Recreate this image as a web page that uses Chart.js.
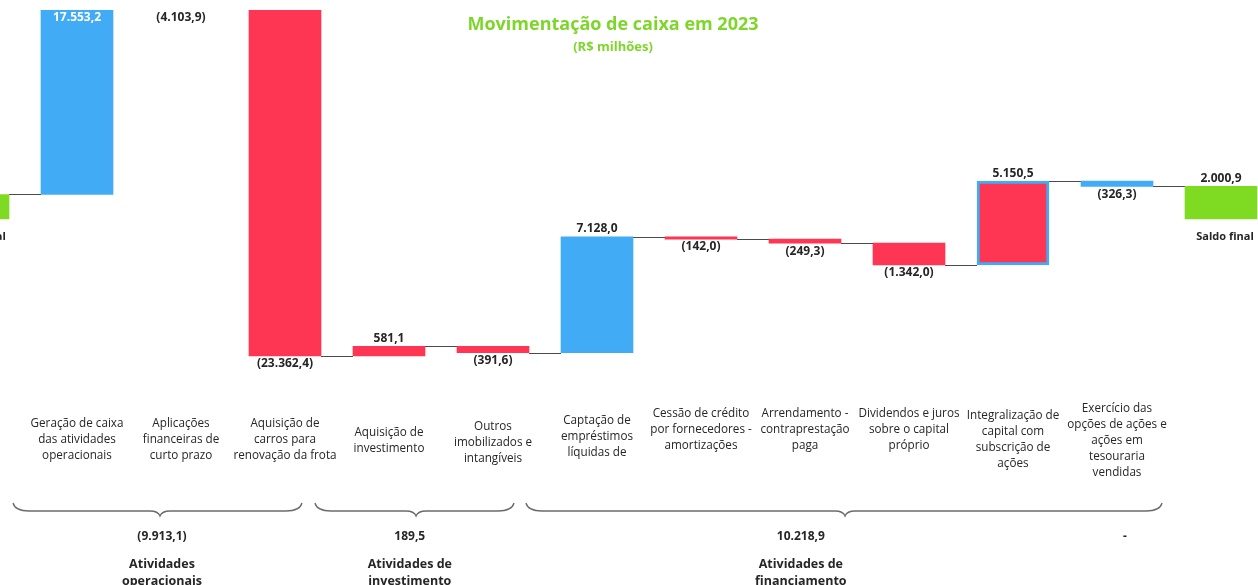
<!DOCTYPE html>
<html><head><meta charset="utf-8">
<script src="https://cdn.jsdelivr.net/npm/chart.js@4/dist/chart.umd.min.js"></script>
<style>
html,body{margin:0;padding:0;background:#fff;overflow:hidden;}
#wrap{position:relative;width:1258px;height:585px;overflow:hidden;background:#fff;}
#c{position:absolute;left:-79px;top:0;}
</style></head><body>
<div id="wrap"><canvas id="c" width="1352" height="585"></canvas></div>
<script>
// ---------- DATA ----------
const categories = [
  ['Saldo inicial'],
  ['Geração de caixa','das atividades','operacionais'],
  ['Aplicações','financeiras de','curto prazo'],
  ['Aquisição de','carros para','renovação da frota'],
  ['Aquisição de','investimento'],
  ['Outros','imobilizados e','intangíveis'],
  ['Captação de','empréstimos','líquidas de'],
  ['Cessão de crédito','por fornecedores -','amortizações'],
  ['Arrendamento -','contraprestação','paga'],
  ['Dividendos e juros','sobre o capital','próprio'],
  ['Integralização de','capital com','subscrição de','ações'],
  ['Exercício das','opções de ações e','ações em','tesouraria','vendidas'],
  ['Saldo final']
];
const saldoInicial = 1505.6;
const variacoes = [17553.2, -4103.9, -23362.4, 581.1, -391.6, 7128.0, -142.0, -249.3, -1342.0, 5150.5, -326.3];
const saldoFinal = 2000.9;
const groupNames = [['Atividades','operacionais'], ['Atividades de','investimento'], ['Atividades de','financiamento']];
const groupTotals = [-9913.1, 189.5, 10218.9];
const extraTotal = '-';

// ---------- STYLE ----------
const GREEN = '#7FDB22', BLUE = '#42ABF5', RED = '#FF3554';
const barColors = [GREEN, BLUE, RED, RED, RED, RED, BLUE, RED, RED, RED, RED, BLUE, GREEN];
const barBorderColors = barColors.map((c,i)=> i===10 ? BLUE : c);
const barBorderWidths = barColors.map((c,i)=> i===10 ? 3 : 0);
const labelCenters = [null, 440, 440, 440, 441, 443, 437, 430, 430, 430, 440, 441, null];
// brace spans in category-index units: [start, tip, end]
const braceSpans = [[0.385, 1.798, 3.163], [3.288, 4.26, 5.202], [5.317, 8.385, 11.433]];
const groupTextPos = [1.817, 4.2, 7.96];
const extraTextPos = 11.077;
const FONT = '"Open Sans", "Noto Sans", sans-serif';
const TXT = '#262626';

// ---------- BUILD ----------
const fmt = v => {
  const a = Math.abs(v).toFixed(1).split('.');
  const ip = a[0].replace(/\B(?=(\d{3})+(?!\d))/g, '.');
  const s = ip + ',' + a[1];
  return v < 0 ? '(' + s + ')' : s;
};
const floating = [];
let level = saldoInicial;
floating.push([0, saldoInicial]);
variacoes.forEach(v => { floating.push([level, level + v]); level += v; });
floating.push([0, saldoFinal]);
const isTotal = i => i === 0 || i === categories.length - 1;
const valueOf = i => i === 0 ? saldoInicial : (i === categories.length - 1 ? saldoFinal : variacoes[i - 1]);

const connectors = {
  id: 'connectors',
  beforeDatasetsDraw(chart) {
    const {ctx, chartArea: ca} = chart;
    const meta = chart.getDatasetMeta(0);
    const y = chart.scales.y;
    ctx.save();
    ctx.beginPath(); ctx.rect(ca.left, ca.top, ca.right - ca.left, ca.bottom - ca.top); ctx.clip();
    ctx.strokeStyle = '#4a4a4a'; ctx.lineWidth = 1;
    for (let i = 0; i < floating.length - 1; i++) {
      const lv = floating[i][1];
      const a = meta.data[i], b = meta.data[i + 1];
      const py = Math.round(y.getPixelForValue(lv)) + 0.5;
      ctx.beginPath();
      ctx.moveTo(a.x + a.width / 2, py);
      ctx.lineTo(b.x - b.width / 2, py);
      ctx.stroke();
    }
    ctx.restore();
  }
};

const texts = {
  id: 'texts',
  afterDraw(chart) {
    const {ctx, chartArea: ca} = chart;
    const meta = chart.getDatasetMeta(0);
    const xs = chart.scales.x, ys = chart.scales.y;
    ctx.save();
    ctx.textAlign = 'center'; ctx.textBaseline = 'middle';
    // value labels
    floating.forEach((f, i) => {
      const bar = meta.data[i];
      const hi = Math.max(f[0], f[1]), lo = Math.min(f[0], f[1]);
      const v = valueOf(i);
      ctx.font = 'bold 12px ' + FONT;
      ctx.fillStyle = TXT;
      const yHi = ys.getPixelForValue(hi), yLo = ys.getPixelForValue(lo);
      if (isTotal(i)) {
        ctx.fillText(fmt(v), bar.x, yHi - 8);
        ctx.font = 'bold 11px ' + FONT;
        ctx.fillText(categories[i][0], bar.x + (i === 0 ? 0 : 4), yLo + 18);
        return;
      }
      if (lo > ys.max) { ctx.fillText(fmt(v), bar.x, ca.top + 8); return; }
      if (v >= 0) {
        if (hi > ys.max) { ctx.fillStyle = '#ffffff'; ctx.fillText(fmt(v), bar.x, ca.top + 8); }
        else ctx.fillText(fmt(v), bar.x, yHi - 8);
      } else {
        ctx.fillText(fmt(v), bar.x, yLo + 8);
      }
    });
    // category labels
    ctx.font = '11.7px ' + FONT; ctx.fillStyle = TXT;
    categories.forEach((lines, i) => {
      if (isTotal(i)) return;
      const cx = meta.data[i].x, lh = 16;
      const y0 = labelCenters[i] - (lines.length - 1) * lh / 2;
      lines.forEach((t, k) => ctx.fillText(t, cx, y0 + k * lh));
    });
    // braces
    ctx.strokeStyle = '#6b6b6b'; ctx.lineWidth = 1.3;
    braceSpans.forEach(([s, t, e]) => {
      const x1 = xs.getPixelForValue(s), xt = xs.getPixelForValue(t), x2 = xs.getPixelForValue(e);
      const yT = 503, yL = 511, yP = 516, r = 16;
      ctx.beginPath();
      ctx.moveTo(x1, yT);
      ctx.quadraticCurveTo(x1 + 2, yL, x1 + r, yL);
      ctx.lineTo(xt - 10, yL);
      ctx.quadraticCurveTo(xt - 2, yL, xt, yP);
      ctx.quadraticCurveTo(xt + 2, yL, xt + 10, yL);
      ctx.lineTo(x2 - r, yL);
      ctx.quadraticCurveTo(x2 - 2, yL, x2, yT);
      ctx.stroke();
    });
    // group totals & names
    ctx.fillStyle = TXT;
    groupTotals.forEach((v, g) => {
      const x = xs.getPixelForValue(groupTextPos[g]);
      ctx.font = 'bold 12px ' + FONT;
      ctx.fillText(fmt(v), x, 537);
      ctx.font = 'bold 12.5px ' + FONT;
      groupNames[g].forEach((t, k) => ctx.fillText(t, x, 564 + k * 17));
    });
    ctx.font = 'bold 12px ' + FONT;
    ctx.fillText(extraTotal, xs.getPixelForValue(extraTextPos), 537);
    // title
    const tx = xs.getPixelForValue(6.154);
    ctx.fillStyle = '#7ED62A';
    ctx.font = 'bold 18px ' + FONT;
    ctx.fillText('Movimentação de caixa em 2023', tx, 25);
    ctx.font = 'bold 13px ' + FONT;
    ctx.fillText('(R$ milhões)', tx, 47);
    ctx.restore();
  }
};

new Chart(document.getElementById('c'), {
  type: 'bar',
  data: {
    labels: categories,
    datasets: [{
      data: floating,
      backgroundColor: barColors,
      borderColor: barBorderColors,
      borderWidth: barBorderWidths,
      borderSkipped: false,
      barThickness: 72
    }]
  },
  options: {
    responsive: false,
    animation: false,
    devicePixelRatio: 1,
    layout: { padding: { top: 10, bottom: 185, left: 0, right: 0 } },
    scales: {
      x: { display: false, offset: true },
      y: { display: false, min: -11120, max: 12840 }
    },
    plugins: { legend: { display: false }, tooltip: { enabled: false }, title: { display: false } }
  },
  plugins: [connectors, texts]
});
</script>
</body></html>
